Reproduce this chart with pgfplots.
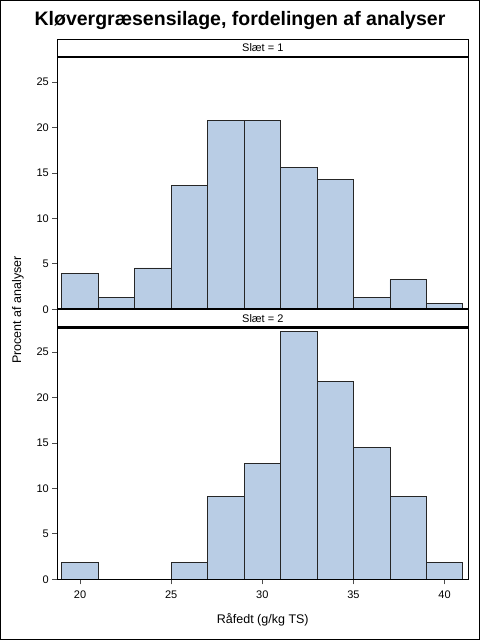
\documentclass[border=0pt]{standalone}
\usepackage{pgfplots}
\pgfplotsset{compat=1.18}
\usepackage{fontspec}
\setmainfont{Liberation Sans}
\definecolor{barfill}{RGB}{185,205,229}
\begin{document}
\begin{tikzpicture}[x=1pt,y=1pt]
\useasboundingbox (0,0) rectangle (480,640);
\fill[white] (0,0) rectangle (480,640);
\draw[line width=1.2pt] (0.6,0.6) rectangle (479.4,639.4);
\node[font=\bfseries\fontsize{19.5}{23}\selectfont] at (240,619) {Kløvergræsensilage, fordelingen af analyser};

\pgfplotsset{panel/.style={scale only axis, width=411pt, height=252.6pt,
  xmin=18.75, xmax=41.3, ymin=0, ymax=27.8, ytick={0,5,...,25},
  tick align=outside, major tick length=5pt, ytick pos=left, xtick pos=left,
  tick style={black!70, line width=0.8pt}, axis line style={black, line width=0.8pt},
  ticklabel style={font=\fontsize{11}{13}\selectfont},
  xticklabel style={yshift=-3pt},
  /pgf/number format/assume math mode=true, anchor=south west, axis on top}}

\begin{axis}[panel, at={(57.3pt,330.7pt)}, xtick=\empty]
\addplot[ybar interval, fill=barfill, draw=black!85, line width=0.8pt] coordinates {
(19,3.896) (21,1.299) (23,4.545) (25,13.636) (27,20.779) (29,20.779)
(31,15.584) (33,14.286) (35,1.299) (37,3.247) (39,0.649) (41,0)};
\end{axis}

\begin{axis}[panel, at={(57.3pt,60.7pt)}, xtick={20,25,...,40}]
\addplot[ybar interval, fill=barfill, draw=black!85, line width=0.8pt] coordinates {
(19,1.818) (21,0) (23,0) (25,1.818) (27,9.091) (29,12.727)
(31,27.273) (33,21.818) (35,14.545) (37,9.091) (39,1.818) (41,0)};
\end{axis}

% panel headers
\draw[line width=0.8pt] (57.3,583.3) rectangle (468.3,601);
\draw[line width=2pt] (57.3,583.3) -- (468.3,583.3);
\node[font=\fontsize{11}{13}\selectfont] at (262.8,592.2) {Slæt = 1};
\draw[line width=0.8pt] (57.3,312.3) rectangle (468.3,330.7);
\draw[line width=2pt] (57.3,312.3) -- (468.3,312.3);
\draw[line width=2pt] (57.3,330.7) -- (468.3,330.7);
\node[font=\fontsize{11}{13}\selectfont] at (262.8,321.5) {Slæt = 2};

\node[rotate=90, font=\fontsize{12.5}{15}\selectfont] at (18,330) {Procent af analyser};
\node[font=\fontsize{12.5}{15}\selectfont] at (262.8,20) {Råfedt (g/kg TS)};
\end{tikzpicture}
\end{document}
